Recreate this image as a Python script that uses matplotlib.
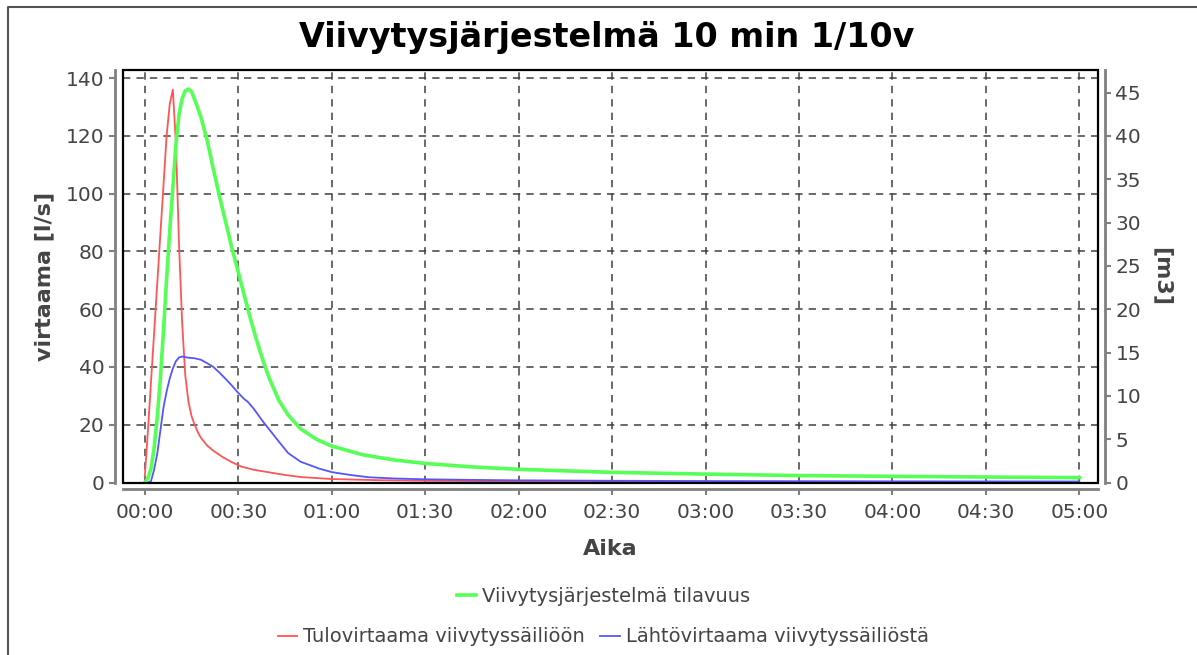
import matplotlib.pyplot as plt
from matplotlib.patches import Rectangle
from matplotlib.lines import Line2D

# time in minutes
t_in = [0, 1, 2, 3, 4, 5, 6, 7, 8, 9, 10, 11, 12, 13, 14, 15, 16, 17, 18, 20,
        22, 25, 28, 31, 35, 40, 45, 50, 60, 75, 90, 120, 180, 240, 300]
q_in = [2, 18, 35, 52, 69, 86, 103, 120, 131, 136, 117, 82, 55, 37, 28, 23, 20, 17.5, 15.5, 12.8,
        11, 8.8, 7, 5.5, 4.4, 3.5, 2.6, 1.9, 1.2, 0.8, 0.6, 0.4, 0.25, 0.2, 0.15]

t_out = [0, 1, 2, 3, 4, 5, 6, 7, 8, 9, 10, 11, 12, 14, 16, 18, 20, 22, 24, 26, 28, 30,
         32, 33, 35, 38, 40, 43, 46, 50, 53, 56, 60, 66, 72, 80, 90, 105, 120, 150, 180, 240, 300]
q_out = [0, 0, 0.5, 4.5, 10, 18, 26, 31.5, 36, 39.5, 42, 43.3, 43.6, 43.2, 43, 42.5, 41.3, 40, 38, 35.8, 33.5, 31,
         28.8, 28, 25.5, 21, 18.3, 14.2, 10.2, 7.2, 6.0, 4.8, 3.6, 2.6, 1.8, 1.4, 1.1, 0.9, 0.75, 0.6, 0.5, 0.4, 0.35]

t_vol = [0, 1, 2, 3, 4, 5, 6, 7, 8, 9, 10, 11, 12, 13, 14, 15, 16, 17, 18, 20, 22, 24, 26, 28, 30,
         32, 34, 36, 38, 40, 43, 46, 50, 55, 60, 70, 80, 90, 105, 120, 150, 180, 210, 240, 270, 300]
vol = [0, 0.5, 1.6, 4, 7.5, 12, 17.5, 23.5, 29, 34, 39, 42.5, 44.3, 45.2, 45.4, 45.1, 44.2, 43.2, 42.2, 39.5, 36.2, 33, 30, 27, 24.3,
       21.5, 18.8, 16.3, 14, 12, 9.5, 7.8, 6.2, 5.0, 4.2, 3.2, 2.6, 2.2, 1.8, 1.52, 1.17, 0.97, 0.8, 0.71, 0.63, 0.56]

x_ticks = [0, 30, 60, 90, 120, 150, 180, 210, 240, 270, 300]
x_labels = ['00:00', '00:30', '01:00', '01:30', '02:00', '02:30', '03:00', '03:30', '04:00', '04:30', '05:00']

plt.rcParams['font.family'] = ['DejaVu Sans']
txt = '#444444'
axc = '#808080'

fig = plt.figure(figsize=(11.97, 6.55), dpi=100)
ax = fig.add_axes([123 / 1197, 1 - 482.5 / 655, 975 / 1197, 412.5 / 655])
ax.plot(t_in, q_in, color='#ff5555', lw=1.3, label='Tulovirtaama viivytyssäiliöön')
ax.plot(t_out, q_out, color='#5555ff', lw=1.3, label='Lähtövirtaama viivytyssäiliöstä')
ax.set_xlim(-7, 306)
ax.set_ylim(0, 142.8)
ax.set_yticks(range(0, 141, 20))
ax.set_xticks(x_ticks)
ax.set_xticklabels(x_labels)
ax.grid(True, color='#404040', linestyle=(0, (4.8, 4)), linewidth=1.1)

ax2 = ax.twinx()
ax2.plot(t_vol, vol, color='#55ff55', lw=2.6, label='Viivytysjärjestelmä tilavuus')
ax2.set_ylim(0, 47.6)
ax2.set_yticks(range(0, 46, 5))

for a in (ax, ax2):
    for s in a.spines.values():
        s.set_visible(False)
    a.tick_params(direction='out', length=4, width=1.5, color=axc, labelcolor=txt, labelsize=14.5)
ax.tick_params(axis='x', pad=6)
ax.spines['left'].set_visible(True)
ax.spines['bottom'].set_visible(True)
ax2.spines['right'].set_visible(True)
ax.spines['left'].set_position(('outward', 6))
ax.spines['bottom'].set_position(('outward', 5))
ax2.spines['right'].set_position(('outward', 5))
for s in (ax.spines['left'], ax.spines['bottom'], ax2.spines['right']):
    s.set_color(axc)
    s.set_linewidth(2)
ax2.add_patch(Rectangle((0, 0), 1, 1, transform=ax2.transAxes, fill=False,
                        ec='black', lw=1.6, clip_on=False, zorder=10))

ax.set_xlabel('Aika', fontsize=16, weight='bold', color=txt, labelpad=12)
ax.set_ylabel('virtaama [l/s]', fontsize=16, weight='bold', color=txt, labelpad=8)
ax2.set_ylabel('[m3]', fontsize=16, weight='bold', color=txt, rotation=-90, labelpad=22)

fig.text(0.507, 1 - 38 / 655, 'Viivytysjärjestelmä 10 min 1/10v', ha='center', va='center',
         fontsize=24, weight='bold', color='black')

leg1 = fig.legend(handles=ax2.get_lines(), loc='center', bbox_to_anchor=(0.504, 1 - 596 / 655),
                  frameon=False, fontsize=14, handlelength=1.0, handletextpad=0.3)
leg2 = fig.legend(handles=ax.get_lines(), loc='center', bbox_to_anchor=(0.504, 1 - 637 / 655), ncol=2,
                  frameon=False, fontsize=14, handlelength=1.0, handletextpad=0.3, columnspacing=0.8)
for lg in (leg1, leg2):
    for t in lg.get_texts():
        t.set_color(txt)

# outer chart border
fig.add_artist(Line2D([8 / 1197, 8 / 1197, 1], [0, 1 - 6.5 / 655, 1 - 6.5 / 655],
                      transform=fig.transFigure, color='#555555', lw=1.5))

fig.savefig('out.png', dpi=100)
